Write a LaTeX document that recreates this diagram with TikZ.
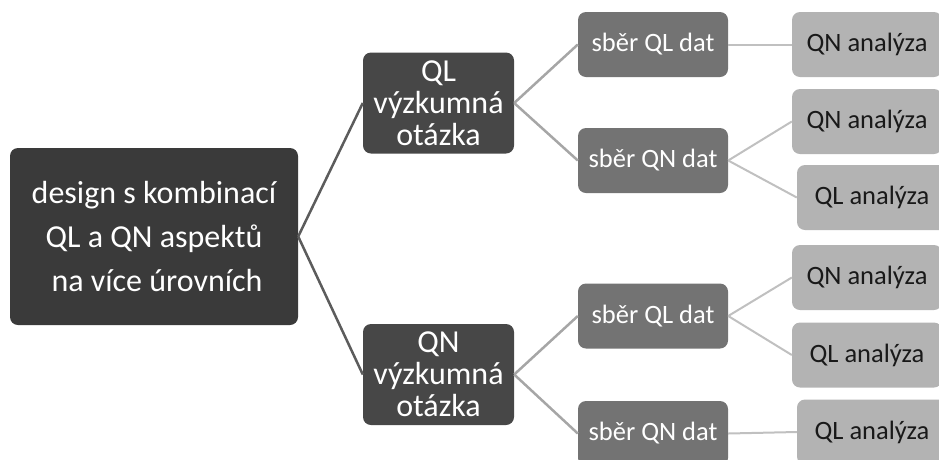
\documentclass[tikz,border=0pt]{standalone}
\usepackage{fontspec}
\setmainfont{Carlito}
\definecolor{cRoot}{HTML}{3A3A3A}
\definecolor{cOne}{HTML}{474747}
\definecolor{cTwo}{HTML}{737373}
\definecolor{cThree}{HTML}{B3B3B3}
\definecolor{lOne}{HTML}{5C5C5C}
\definecolor{lTwo}{HTML}{A6A6A6}
\definecolor{lThree}{HTML}{C0C0C0}
\begin{document}
\begin{tikzpicture}[x=1pt,y=-1pt,
  box/.style={rounded corners=8pt, inner sep=0pt, align=center},
  rootbox/.style={box, fill=cRoot, text=white, minimum width=288pt, minimum height=177pt, font=\fontsize{32}{44}\selectfont},
  onebox/.style={box, fill=cOne, text=white, minimum width=151pt, minimum height=101pt, font=\fontsize{32}{32}\selectfont},
  twobox/.style={box, fill=cTwo, text=white, minimum width=150pt, minimum height=65pt, font=\fontsize{26.5}{30}\selectfont},
  threebox/.style={box, fill=cThree, text=black!90, minimum width=150pt, minimum height=65pt, font=\fontsize{26.5}{30}\selectfont},
  lineone/.style={draw=lOne, line width=2.5pt},
  linetwo/.style={draw=lTwo, line width=2.5pt},
  linethree/.style={draw=lThree, line width=2pt}]
\useasboundingbox (0,0) rectangle (939,459);
\clip (0,0) rectangle (939,459);
\node[rootbox] (root) at (154,236.5) {design s kombinací\\QL a QN aspektů\\\hspace*{6pt}na více úrovních};
\node[onebox] (ql) at (438.5,103) {QL\\výzkumná\\otázka};
\node[onebox] (qn) at (438.5,374.5) {QN\\výzkumná\\otázka};
\node[twobox] (s1) at (653,44.5) {sběr QL dat};
\node[twobox] (s2) at (653,160.5) {sběr QN dat};
\node[twobox] (s3) at (653,316) {sběr QL dat};
\node[twobox] (s4) at (653,433.5) {sběr QN dat};
\node[threebox] (a1) at (867,44.5) {QN analýza};
\node[threebox] (a2) at (867,121.5) {QN analýza};
\node[threebox] (a3) at (872,197.5) {QL analýza};
\node[threebox] (a4) at (867,277.5) {QN analýza};
\node[threebox] (a5) at (867,355) {QL analýza};
\node[threebox] (a6) at (872,432) {QL analýza};
\draw[lineone] (root.east) -- (ql.west);
\draw[lineone] (root.east) -- (qn.west);
\draw[linetwo] (ql.east) -- (s1.west);
\draw[linetwo] (ql.east) -- (s2.west);
\draw[linetwo] (qn.east) -- (s3.west);
\draw[linetwo] (qn.east) -- (s4.west);
\draw[linethree] (s1.east) -- (a1.west);
\draw[linethree] (s2.east) -- (a2.west);
\draw[linethree] (s2.east) -- (a3.west);
\draw[linethree] (s3.east) -- (a4.west);
\draw[linethree] (s3.east) -- (a5.west);
\draw[linethree] (s4.east) -- (a6.west);
\end{tikzpicture}
\end{document}
